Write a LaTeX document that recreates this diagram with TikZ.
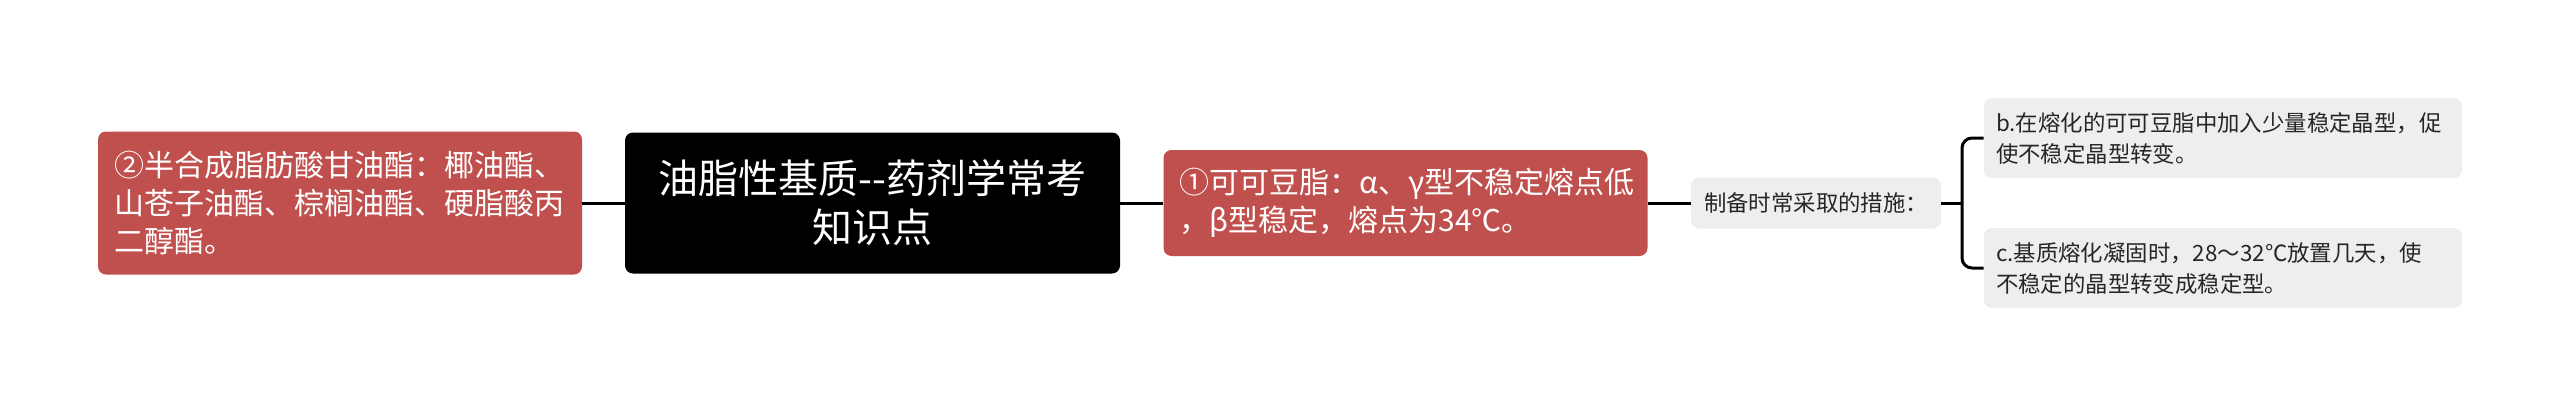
\documentclass[tikz,border=0pt]{standalone}
\usepackage{fontspec}
\newfontfamily\cjk{Noto Sans CJK SC}
\definecolor{brique}{RGB}{192,80,77}
\definecolor{gris}{RGB}{238,238,238}
\begin{document}
\begin{tikzpicture}[x=0.5pt,y=-0.5pt]
\def\ymid{203}
\tikzstyle{racine}=[fill=black,text=white,rounded corners=4pt,align=center,minimum width=247.5pt,minimum height=70.5pt,inner sep=0pt,font=\cjk\fontsize{20}{24.5}\selectfont]
\tikzstyle{branche}=[fill=brique,text=white,rounded corners=4pt,align=left,text width=226pt,inner xsep=8pt,inner ysep=0pt,font=\cjk\fontsize{15}{19}\selectfont]
\tikzstyle{feuille}=[fill=gris,text=black!85,rounded corners=4pt,align=left,text width=227pt,inner xsep=6pt,inner ysep=0pt,minimum height=40pt,font=\cjk\fontsize{11.2}{15.5}\selectfont]
\tikzstyle{lien}=[line width=1.5pt]

\useasboundingbox (0,0) rectangle (2560,407);

% Racine
\node[racine] (R) at (872.5,\ymid) {油脂性基质--药剂学常考\\知识点};

% Branche gauche
\node[branche,minimum height=71.5pt] (S) at (340,\ymid) {②半合成脂肪酸甘油酯：椰油酯、\\山苍子油酯、棕榈油酯、硬脂酸丙\\二醇酯。};
 \draw[lien] (S) -- (R);

% Branche droite
\node[branche,minimum height=53pt] (C) at (1405.5,\ymid) {①可可豆脂：α、γ型不稳定熔点低\\，β型稳定，熔点为34℃。};
 \draw[lien] (R) -- (C);

% Mesures
\node[fill=gris,text=black!85,rounded corners=4pt,minimum width=125pt,minimum height=25.5pt,inner sep=0pt,font=\cjk\fontsize{11.2}{15.5}\selectfont] (M) at (1816,\ymid) {制备时常采取的措施：};
 \draw[lien] (C) -- (M);
\coordinate (K) at (1962,\ymid);
 \draw[lien] (M) -- (K);

\node[feuille] (B) at (2223,138) {b.在熔化的可可豆脂中加入少量稳定晶型，促\\使不稳定晶型转变。};
\node[feuille] (D) at (2223,268) {c.基质熔化凝固时，28～32℃放置几天，使\\不稳定的晶型转变成稳定型。};
 \draw[lien,rounded corners=5pt] (B.west) -| (K) |- (D.west);

\end{tikzpicture}
\end{document}
